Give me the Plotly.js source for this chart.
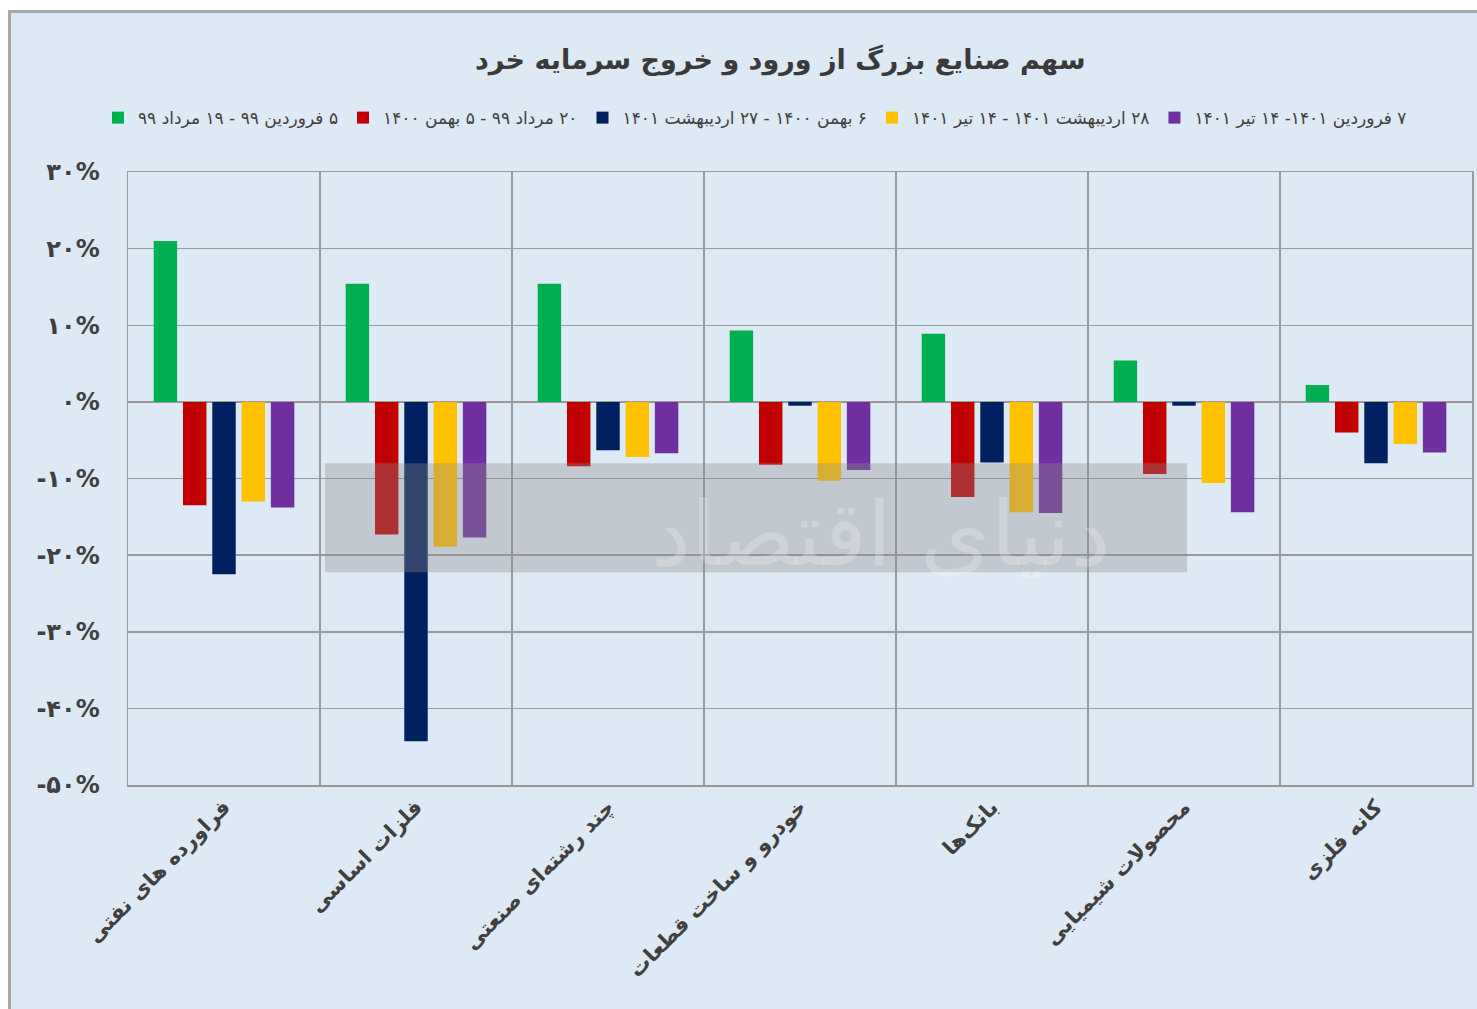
<!DOCTYPE html>
<html>
<head>
<meta charset="utf-8">
<script src="https://cdn.plot.ly/plotly-3.0.1.min.js"></script>
<style>
  html, body { margin: 0; padding: 0; background: #ffffff; width: 1477px; height: 1009px; overflow: hidden; }
  #frame { position: absolute; left: 8px; top: 10px; width: 1469px; height: 999px; border-left: 3px solid #a8a8a8; border-top: 3px solid #a8a8a8; background: #dde9f5; box-sizing: border-box; }
  #chart { position: absolute; left: 10px; top: 12px; width: 1467px; height: 997px; }
</style>
</head>
<body>
<div id="frame"></div>
<div id="chart"></div>
<script>
const RLE = '\u202B', PDF = '\u202C';
const rtl = s => RLE + s + PDF;

const categories = [
  'فراورده های نفتی',
  'فلزات اساسی',
  'چند رشته‌ای صنعتی',
  'خودرو و ساخت قطعات',
  'بانک‌ها',
  'محصولات شیمیایی',
  'کانه فلزی'
];

const seriesNames = [
  '۵ فروردین ۹۹ - ۱۹ مرداد ۹۹',
  '۲۰ مرداد ۹۹ - ۵ بهمن ۱۴۰۰',
  '۶ بهمن ۱۴۰۰ - ۲۷ اردیبهشت ۱۴۰۱',
  '۲۸ اردیبهشت ۱۴۰۱ - ۱۴ تیر ۱۴۰۱',
  '۷ فروردین ۱۴۰۱- ۱۴ تیر ۱۴۰۱'
];

const period1 = [21.0, 15.4, 15.4, 9.3, 8.9, 5.4, 2.2];
const period2 = [-13.5, -17.3, -8.4, -8.2, -12.4, -9.4, -4.0];
const period3 = [-22.5, -44.3, -6.3, -0.5, -7.9, -0.5, -8.0];
const period4 = [-13.0, -18.9, -7.2, -10.3, -14.4, -10.6, -5.5];
const period5 = [-13.8, -17.7, -6.7, -8.9, -14.5, -14.4, -6.6];

const tickValues = [30, 20, 10, 0, -10, -20, -30, -40, -50];
const tickLabels = ['۳۰%', '۲۰%', '۱۰%', '۰%', '-۱۰%', '-۲۰%', '-۳۰%', '-۴۰%', '-۵۰%'];

const colors = ['#00b050', '#c00000', '#002060', '#ffc000', '#7030a0'];
const allSeries = [period1, period2, period3, period4, period5];

const catLabels = categories.map(rtl);
const traces = allSeries.map((vals, i) => ({
  type: 'bar',
  x: catLabels,
  y: vals,
  name: rtl(seriesNames[i]),
  marker: { color: colors[i] },
  hoverinfo: 'x+y+name'
}));

const FONT = 'DejaVu Sans, Noto Sans, sans-serif';

const layout = {
  width: 1467,
  height: 997,
  paper_bgcolor: 'rgba(0,0,0,0)',
  plot_bgcolor: '#dde9f5',
  margin: { l: 118, r: 5, t: 160, b: 224 },
  barmode: 'group',
  bargap: 0.237,
  bargroupgap: 0.2,
  title: {
    text: 'سهم صنایع بزرگ از ورود و خروج سرمایه خرد',
    font: { family: FONT, size: 27, color: '#3a3a3a', weight: 'bold' },
    x: 0.525, xanchor: 'center', y: 0.952, yanchor: 'middle'
  },
  showlegend: true,
  legend: {
    orientation: 'h',
    x: 0.4665, xanchor: 'center',
    y: 1.088, yanchor: 'middle',
    font: { family: FONT, size: 17, color: '#404040' },
    itemwidth: 14,
    bgcolor: 'rgba(0,0,0,0)'
  },
  xaxis: {
    type: 'category',
    tickson: 'boundaries',
    showgrid: true,
    gridcolor: '#9a9a9a',
    gridwidth: 1.5,
    ticks: '',
    tickangle: -45,
    tickfont: { family: FONT, size: 21, color: '#404040', weight: 'bold' },
    showline: true,
    linecolor: '#9a9a9a',
    linewidth: 1.5,
    mirror: true,
    zeroline: false
  },
  yaxis: {
    range: [-50, 30],
    tickvals: tickValues,
    ticktext: tickLabels,
    showgrid: true,
    gridcolor: '#9a9a9a',
    gridwidth: 1.5,
    zeroline: false,
    showline: true,
    linecolor: '#9a9a9a',
    linewidth: 1.5,
    mirror: true,
    ticks: '',
    ticklabelstandoff: 22,
    tickfont: { family: FONT, size: 24, color: '#404040', weight: 'bold' }
  },
  shapes: [
    {
      type: 'rect', xref: 'paper', yref: 'paper',
      x0: 0.1466, x1: 0.788, y0: 0.347, y1: 0.525,
      fillcolor: 'rgba(140,140,140,0.35)', line: { width: 0 }, layer: 'above'
    }
  ],
  annotations: [
    {
      xref: 'paper', yref: 'paper', x: 0.56, y: 0.41,
      text: 'دنیای اقتصاد', showarrow: false,
      font: { family: FONT, size: 90, color: 'rgba(255,255,255,0.22)' }
    }
  ]
};

Plotly.newPlot('chart', traces, layout, { displayModeBar: false, staticPlot: true });
</script>
</body>
</html>
